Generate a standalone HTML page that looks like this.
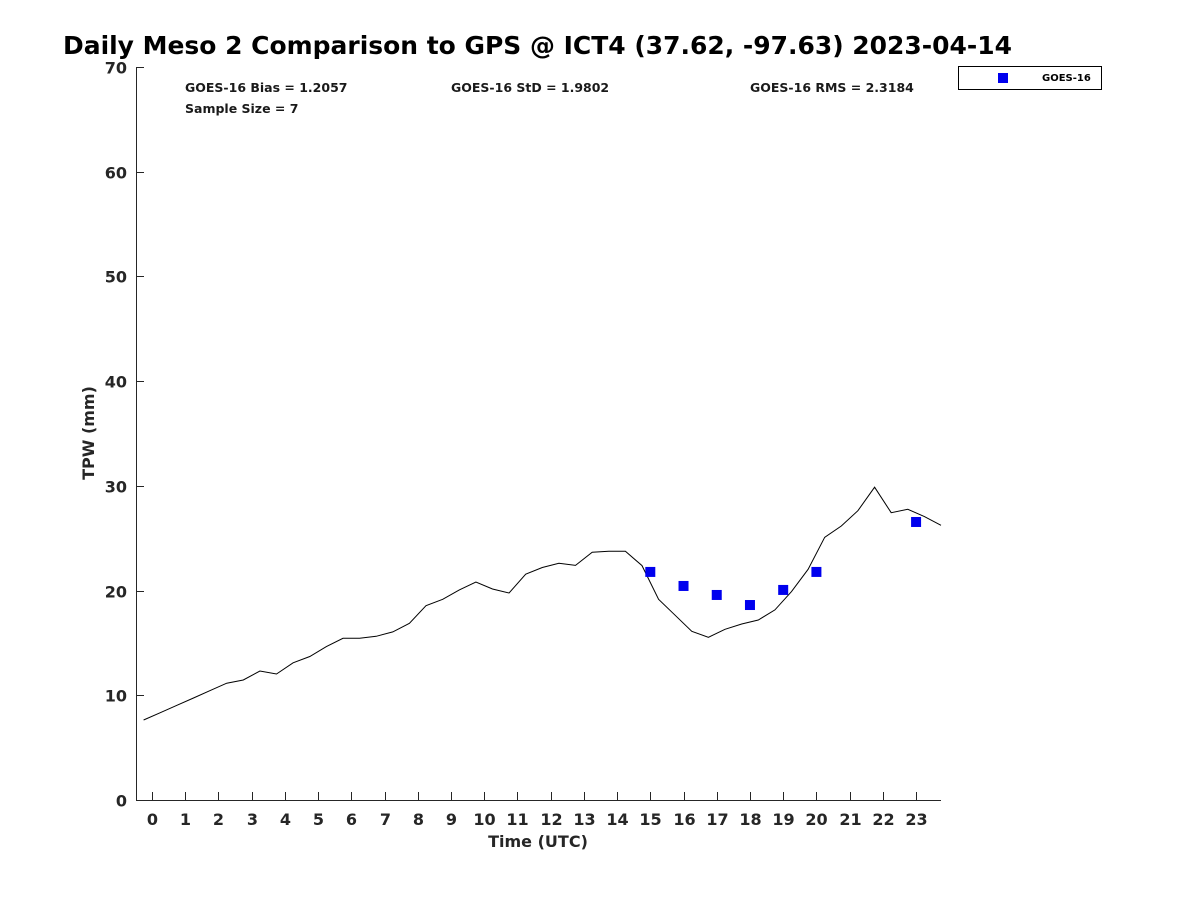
<!DOCTYPE html>
<html><head><meta charset="utf-8"><style>
html,body{margin:0;padding:0;background:#fff;}
svg{display:block;font-family:"DejaVu Sans","Liberation Sans",sans-serif;}
</style></head><body>
<svg id="chart" width="1200" height="900" viewBox="0 0 1200 900">
<text x="63" y="54" font-size="25" font-weight="bold" fill="#000" textLength="949" lengthAdjust="spacingAndGlyphs">Daily Meso 2 Comparison to GPS @ ICT4 (37.62, -97.63) 2023-04-14</text>
<g font-size="12.5" font-weight="bold" fill="#1a1a1a">
<text x="185" y="92">GOES-16 Bias = 1.2057</text>
<text x="451" y="92">GOES-16 StD = 1.9802</text>
<text x="750" y="92">GOES-16 RMS = 2.3184</text>
<text x="185" y="113">Sample Size = 7</text>
</g>
<g>
<rect x="958.5" y="66.5" width="143" height="23" fill="#fff" stroke="#000" stroke-width="1"/>
<rect x="998" y="73" width="10" height="10" fill="#0000ee"/>
<text x="1042" y="81" font-size="10" font-weight="bold" fill="#000">GOES-16</text>
</g>
<g id="axes"></g>
<g id="series"></g>
<text x="538" y="847" font-size="16" font-weight="bold" fill="#262626" text-anchor="middle">Time (UTC)</text>
<text transform="translate(94,433) rotate(-90)" font-size="16" font-weight="bold" fill="#262626" text-anchor="middle">TPW (mm)</text>
</svg>
<script>
const xTicks=[0,1,2,3,4,5,6,7,8,9,10,11,12,13,14,15,16,17,18,19,20,21,22,23];
const yTicks=[0,10,20,30,40,50,60,70];
const gpsTimes=[-0.25,0.25,0.75,1.25,1.75,2.25,2.75,3.25,3.75,4.25,4.75,5.25,5.75,6.25,6.75,7.25,7.75,8.25,8.75,9.25,9.75,10.25,10.75,11.25,11.75,12.25,12.75,13.25,13.75,14.25,14.75,15.25,15.75,16.25,16.75,17.25,17.75,18.25,18.75,19.25,19.75,20.25,20.75,21.25,21.75,22.25,22.75,23.25,23.75];
const gpsValues=[7.64,8.34,9.04,9.74,10.45,11.15,11.46,12.32,12.03,13.1,13.7,14.65,15.44,15.44,15.63,16.05,16.87,18.56,19.17,20.06,20.82,20.15,19.77,21.56,22.2,22.6,22.4,23.66,23.75,23.75,22.38,19.17,17.64,16.11,15.54,16.3,16.81,17.19,18.15,19.9,22.03,25.09,26.17,27.63,29.87,27.44,27.76,27.06,26.23];
const goesTimes=[15,16,17,18,19,20,23];
const goesValues=[21.78,20.44,19.58,18.62,20.06,21.78,26.55];
const X0=136,X1=941,Y0=800,Y1=67,XMIN=-0.48,XMAX=23.75,YMIN=0,YMAX=70;
const xs=t=>X0+(t-XMIN)/(XMAX-XMIN)*(X1-X0);
const ys=v=>Y0-(v-YMIN)/(YMAX-YMIN)*(Y0-Y1);
const NS="http://www.w3.org/2000/svg";
const axes=document.getElementById('axes'),series=document.getElementById('series');
function mk(tag,attrs,parent){const e=document.createElementNS(NS,tag);for(const k in attrs)e.setAttribute(k,attrs[k]);parent.appendChild(e);return e;}
let l=mk('line',{x1:X0+0.5,y1:Y1,x2:X0+0.5,y2:Y0+0.5,stroke:'#262626','stroke-width':1},axes);


l=mk('line',{x1:X0,y1:Y0+0.5,x2:X1,y2:Y0+0.5,stroke:'#262626','stroke-width':1},axes);


xTicks.forEach(t=>{const x=Math.round(xs(t))+0.5;
const tk=mk('line',{x1:x,y1:Y0,x2:x,y2:Y0-8,stroke:'#262626'},axes);


const tx=mk('text',{x:x,y:Y0+25,'font-size':16,'font-weight':'bold',fill:'#262626','text-anchor':'middle'},axes);tx.textContent=t;

});
yTicks.forEach(v=>{const y=Math.round(ys(v))+0.5;
const tk=mk('line',{x1:X0,y1:y,x2:X0+8,y2:y,stroke:'#262626'},axes);


const tx=mk('text',{x:X0-9,y:y+6,'font-size':16,'font-weight':'bold',fill:'#262626','text-anchor':'end'},axes);tx.textContent=v;

});
const pl=mk('polyline',{points:gpsTimes.map((t,i)=>xs(t).toFixed(1)+','+ys(gpsValues[i]).toFixed(1)).join(' '),fill:'none',stroke:'#000','stroke-width':1},series);


goesTimes.forEach((t,i)=>{const r=mk('rect',{x:xs(t)-5,y:ys(goesValues[i])-5,width:10,height:10,fill:'#0000ee'},series);

});
</script>
</body></html>
